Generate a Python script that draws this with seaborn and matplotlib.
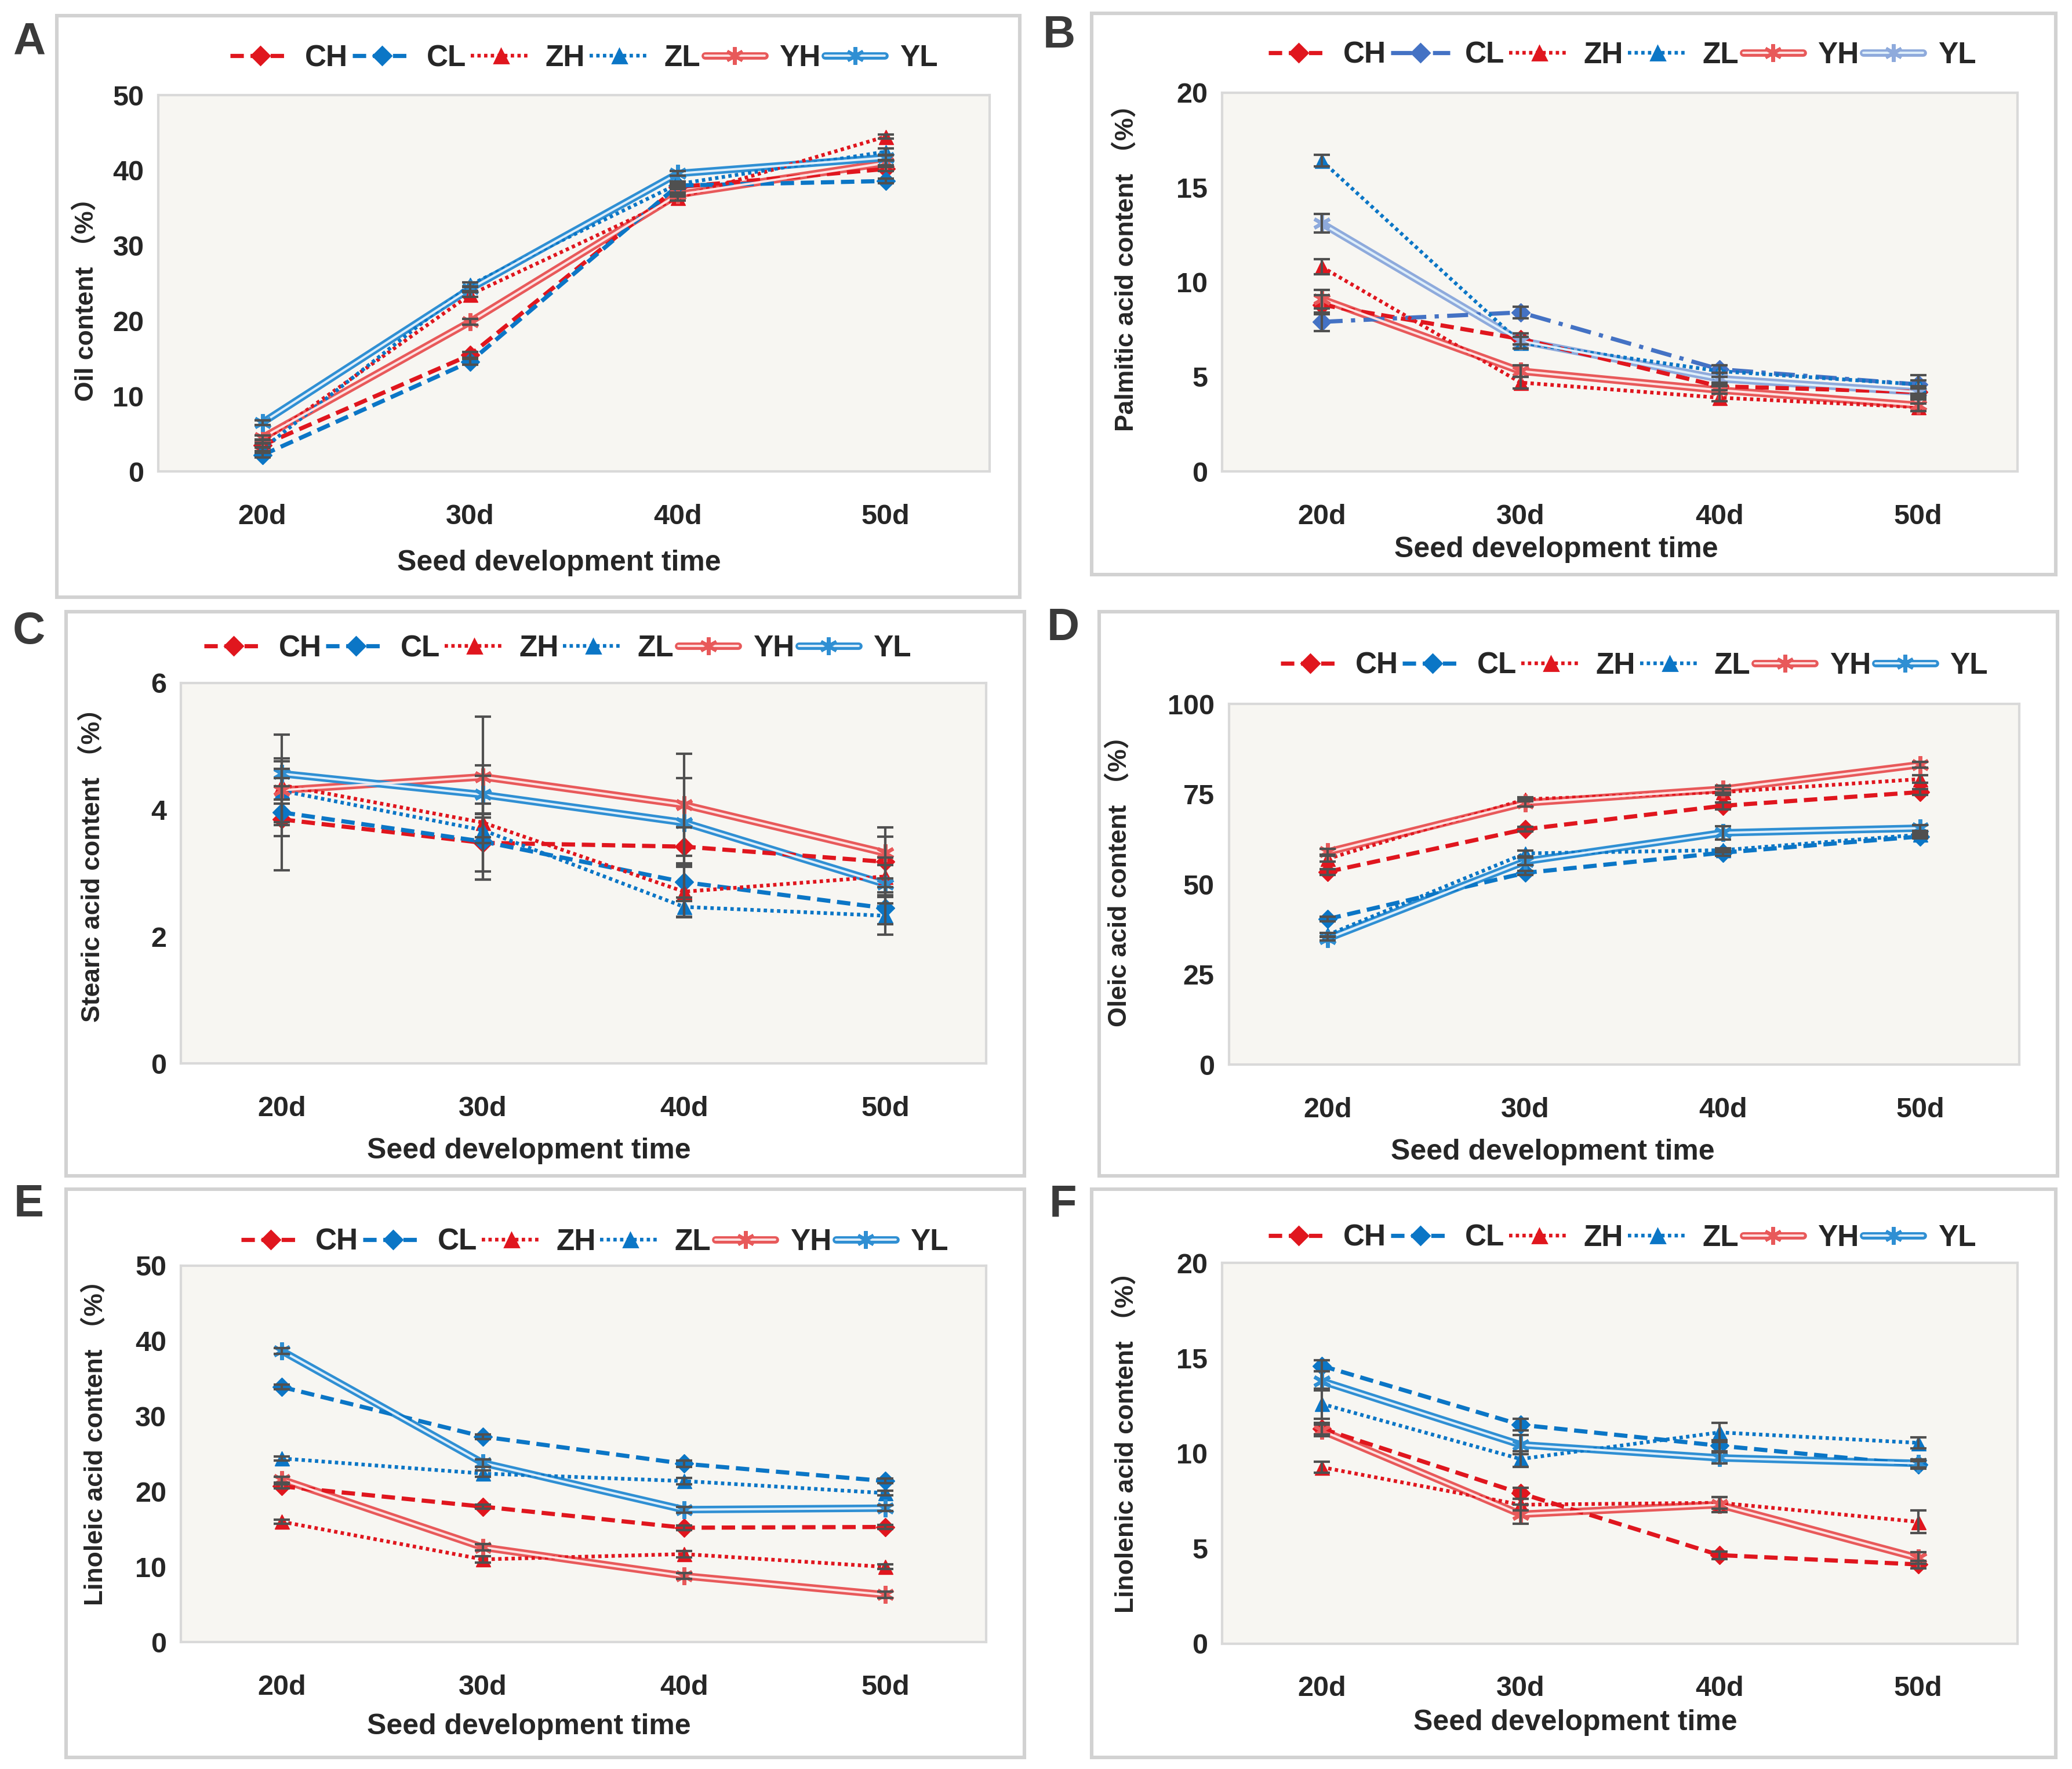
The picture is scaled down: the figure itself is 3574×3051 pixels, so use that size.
import warnings
warnings.filterwarnings("ignore")

import numpy as np
import matplotlib
matplotlib.use("Agg")
import matplotlib.pyplot as plt
import seaborn as sns
from matplotlib.lines import Line2D
from matplotlib.patches import Rectangle

# categories / series
days = ["20d", "30d", "40d", "50d"]
series = ["CH", "CL", "ZH", "ZL", "YH", "YL"]

# A - oil content (%)
oil = {"CH": [3.5, 15.5, 37.8, 40.2], "CL": [2.2, 14.6, 38.0, 38.6],
       "ZH": [4.0, 23.5, 36.4, 44.5], "ZL": [3.0, 24.8, 38.2, 42.5],
       "YH": [4.5, 19.9, 36.8, 41.0], "YL": [6.5, 24.3, 39.6, 41.7]}
oil_err = {"CH": [0.3, 0.4, 0.3, 0.3], "CL": [0.3, 0.4, 0.3, 0.3],
           "ZH": [0.3, 0.3, 0.4, 0.3], "ZL": [0.3, 0.3, 0.3, 0.4],
           "YH": [0.3, 0.4, 0.3, 0.3], "YL": [0.3, 0.3, 0.3, 0.3]}

# B - palmitic acid (%)
palmitic = {"CH": [8.8, 7.0, 4.5, 4.2], "CL": [7.9, 8.4, 5.4, 4.6],
            "ZH": [10.8, 4.7, 3.9, 3.4], "ZL": [16.4, 6.8, 5.3, 4.6],
            "YH": [9.1, 5.3, 4.3, 3.5], "YL": [13.1, 6.9, 4.9, 4.2]}
palmitic_err = {"CH": [0.5, 0.3, 0.2, 0.2], "CL": [0.5, 0.3, 0.2, 0.2],
                "ZH": [0.4, 0.3, 0.2, 0.2], "ZL": [0.3, 0.3, 0.3, 0.5],
                "YH": [0.5, 0.3, 0.2, 0.3], "YL": [0.5, 0.4, 0.3, 0.3]}

# C - stearic acid (%)
stearic = {"CH": [3.85, 3.48, 3.42, 3.18], "CL": [3.96, 3.5, 2.86, 2.45],
           "ZH": [4.39, 3.8, 2.71, 2.95], "ZL": [4.3, 3.68, 2.47, 2.33],
           "YH": [4.31, 4.52, 4.08, 3.32], "YL": [4.57, 4.24, 3.8, 2.83]}
stearic_err = {"CH": [0.8, 0.45, 0.3, 0.4], "CL": [0.2, 0.6, 0.3, 0.25],
               "ZH": [0.8, 0.9, 0.4, 0.3], "ZL": [0.2, 0.2, 0.15, 0.3],
               "YH": [0.5, 0.95, 0.8, 0.4], "YL": [0.2, 0.3, 0.7, 0.3]}

# D - oleic acid (%)
oleic = {"CH": [53.5, 65.3, 71.8, 75.6], "CL": [40.4, 53.2, 58.8, 63.3],
         "ZH": [57.1, 73.6, 75.6, 79.2], "ZL": [36.0, 58.6, 59.5, 63.8],
         "YH": [59.0, 72.6, 76.4, 83.2], "YL": [35.0, 56.4, 64.3, 65.6]}
oleic_err = {"CH": [0.8, 0.6, 1.0, 0.8], "CL": [0.6, 0.6, 0.8, 0.6],
             "ZH": [0.8, 0.6, 0.8, 1.0], "ZL": [0.6, 0.8, 0.6, 0.6],
             "YH": [0.8, 1.0, 1.0, 0.8], "YL": [0.6, 1.0, 1.8, 0.8]}

# E - linoleic acid (%)
linoleic = {"CH": [20.7, 18.0, 15.2, 15.3], "CL": [33.9, 27.3, 23.7, 21.4],
            "ZH": [16.0, 11.0, 11.7, 10.0], "ZL": [24.4, 22.4, 21.4, 19.8],
            "YH": [21.6, 12.6, 8.8, 6.3], "YL": [38.7, 23.8, 17.6, 17.8]}
linoleic_err = {"CH": [0.3, 0.3, 0.3, 0.3], "CL": [0.3, 0.3, 0.4, 0.3],
                "ZH": [0.3, 0.4, 0.4, 0.3], "ZL": [0.3, 0.4, 0.4, 0.3],
                "YH": [0.4, 0.4, 0.4, 0.4], "YL": [0.4, 0.5, 0.4, 0.4]}

# F - linolenic acid (%)
linolenic = {"CH": [11.3, 7.9, 4.65, 4.16], "CL": [14.6, 11.5, 10.4, 9.4],
             "ZH": [9.27, 7.3, 7.4, 6.4], "ZL": [12.6, 9.7, 11.1, 10.55],
             "YH": [11.2, 6.8, 7.3, 4.5], "YL": [13.8, 10.45, 9.76, 9.47]}
linolenic_err = {"CH": [0.3, 0.3, 0.2, 0.2], "CL": [0.3, 0.3, 0.3, 0.2],
                 "ZH": [0.3, 0.3, 0.3, 0.6], "ZL": [0.8, 0.4, 0.5, 0.3],
                 "YH": [0.3, 0.5, 0.4, 0.3], "YL": [0.5, 0.5, 0.3, 0.2]}

sns.set_theme(style="white")
plt.rcParams["font.family"] = ["Liberation Sans", "Noto Sans CJK SC", "DejaVu Sans"]
plt.rcParams["font.weight"] = "bold"

RED = "#e0161e"
BLUE = "#0b76c6"
STAR = (6, 2, 0)

base_colors = {"CH": RED, "CL": BLUE, "ZH": RED, "ZL": BLUE, "YH": "#e8595a", "YL": "#2f8fd3"}
b_colors = {"CH": RED, "CL": "#4472c4", "ZH": RED, "ZL": "#0b76c6", "YH": "#e8595a", "YL": "#8eaadc"}
inner = {"YH": "#fde2e2", "YL": "#deeefa"}

DASH = (0, (3.2, 1.6))
DOT = (0, (0.9, 0.9))
DASHDOT = (0, (5, 2, 1, 2))


def style_of(name, dashdot):
    if name in ("CH", "CL"):
        ls = DASHDOT if (dashdot and name == "CL") else DASH
        return ls, "D", 2.6, 8
    if name in ("ZH", "ZL"):
        return DOT, "^", 2.3, 9
    return "-", STAR, 4.6, 11


def draw_panel(ax, data, err, colors, dashdot=False):
    x = np.arange(len(days))
    handles = []
    for name in series:
        vals = data[name]
        col = colors[name]
        ls, mk, lw, ms = style_of(name, dashdot)
        if name.startswith("Y"):
            sns.lineplot(x=x, y=vals, ax=ax, color=col, lw=lw, legend=False, zorder=3)
            sns.lineplot(x=x, y=vals, ax=ax, color=inner[name], lw=1.4, marker=mk, ms=ms,
                         mec=col, mfc=col, mew=2.2, legend=False, zorder=4)
            h = (Line2D([], [], color=col, lw=lw),
                 Line2D([], [], color=inner[name], lw=1.4, marker=mk, ms=ms, mec=col, mfc=col, mew=2.2))
        else:
            sns.lineplot(x=x, y=vals, ax=ax, color=col, lw=lw, linestyle=ls, marker=mk, ms=ms,
                         mec=col, mfc=col, mew=0.5, legend=False, zorder=4)
            h = Line2D([], [], color=col, lw=lw, linestyle=ls, marker=mk, ms=ms, mec=col, mfc=col)
        ax.errorbar(x, vals, yerr=err[name], fmt="none", ecolor="#505050", elinewidth=1.5,
                    capsize=5, capthick=1.5, zorder=5)
        handles.append(h)
    return handles


panels = [
    ("A", oil, oil_err, "Oil content \uff08%\uff09", 50, 10, [0.0765, 0.7334, 0.4011, 0.2128],
     [0.0274, 0.6624, 0.4649, 0.3286], (0.014, 0.976), (0.512, 1.098), (0.482, -0.242), (-0.087, 0.474)),
    ("B", palmitic, palmitic_err, "Palmitic acid content \uff08%\uff09", 20, 5, [0.5899, 0.7334, 0.3839, 0.2143],
     [0.5268, 0.6751, 0.4655, 0.3174], (0.511, 0.980), (0.503, 1.098), (0.42, -0.206), (-0.121, 0.554)),
    ("C", stearic, stearic_err, "Stearic acid content \uff08%\uff09", 6, 2, [0.0874, 0.3988, 0.3884, 0.2151],
     [0.0319, 0.3353, 0.4624, 0.3189], (0.014, 0.643), (0.468, 1.090), (0.432, -0.229), (-0.110, 0.538)),
    ("D", oleic, oleic_err, "Oleic acid content \uff08%\uff09", 100, 25, [0.5931, 0.3981, 0.3814, 0.2039],
     [0.5306, 0.3353, 0.4624, 0.3189], (0.513, 0.645), (0.513, 1.106), (0.41, -0.242), (-0.139, 0.527)),
    ("E", linoleic, linoleic_err, "Linoleic acid content \uff08%\uff09", 50, 10, [0.0874, 0.0717, 0.3884, 0.2128],
     [0.0319, 0.0067, 0.4624, 0.3212], (0.014, 0.319), (0.514, 1.063), (0.432, -0.225), (-0.107, 0.547)),
    ("F", linolenic, linolenic_err, "Linolenic acid content \uff08%\uff09", 20, 5, [0.5899, 0.0709, 0.3839, 0.2151],
     [0.5268, 0.0067, 0.4655, 0.3212], (0.513, 0.319), (0.503, 1.066), (0.444, -0.208), (-0.121, 0.545)),
]

fig = plt.figure(figsize=(17.87, 15.255), dpi=200)
fig.patch.set_facecolor("white")

for letter, data, err, ylab, ymax, ystep, rect, frame, lpos, legpos, xlpos, ylpos in panels:
    fig.add_artist(Rectangle((frame[0], frame[1]), frame[2], frame[3], transform=fig.transFigure,
                             fill=False, ec="#d2d2d2", lw=2.2))
    ax = fig.add_axes(rect)
    ax.set_facecolor("#f7f6f2")
    colors = b_colors if letter == "B" else base_colors
    handles = draw_panel(ax, data, err, colors, dashdot=(letter == "B"))

    ax.set_xlim(-0.5, len(days) - 0.5)
    ax.set_ylim(0, ymax)
    ax.set_xticks(np.arange(len(days)))
    ax.set_xticklabels(days)
    ax.set_yticks(np.arange(0, ymax + ystep / 2, ystep))
    ax.tick_params(axis="both", length=0, labelsize=17.5)
    ax.tick_params(axis="y", pad=9)
    ax.tick_params(axis="x", pad=20)
    for t in ax.get_xticklabels() + ax.get_yticklabels():
        t.set_fontweight("bold")
    for s in ax.spines.values():
        s.set_color("#d9d9d9")
        s.set_linewidth(1.5)
    ax.grid(False)

    ax.set_xlabel("Seed development time", fontsize=18, fontweight="bold")
    ax.xaxis.set_label_coords(*xlpos)
    ax.xaxis.label.set_va("center")
    ax.set_ylabel(ylab, fontsize=16, fontweight="bold")
    ax.yaxis.set_label_coords(*ylpos)
    ax.yaxis.label.set_va("center")

    ax.legend(handles, series, loc="center", bbox_to_anchor=legpos, ncol=6, frameon=False,
              handlelength=2.0, handletextpad=0.5, columnspacing=0.15,
              prop={"size": 18.5, "weight": "bold"})

    fig.text(lpos[0], lpos[1], letter, fontsize=28, fontweight="bold", color="#3a3a3a",
             ha="center", va="center")

fig.savefig("out.png", dpi=200, facecolor="white")
